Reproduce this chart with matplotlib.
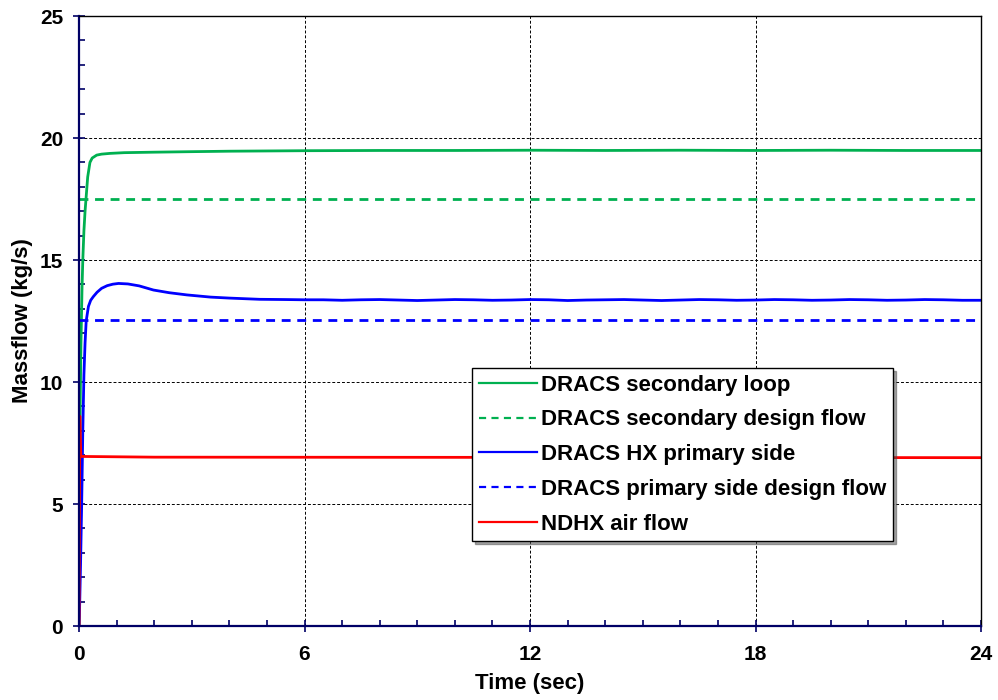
import matplotlib.pyplot as plt
from matplotlib.ticker import MultipleLocator

plt.rcParams['font.family'] = ['Liberation Sans', 'DejaVu Sans']
plt.rcParams['font.weight'] = 'bold'

### data ####
t_sec = [0.0, 0.01, 0.03, 0.05, 0.08, 0.1, 0.13, 0.16, 0.19, 0.23, 0.29, 0.35, 0.47, 0.6, 0.82, 1.2,
         2.0, 2.95, 4.0, 6.0, 8.0, 10.0, 12.0, 14.0, 16.0, 18.0, 20.0, 22.0, 24.0]
secondary_loop = [0.0, 3.0, 9.0, 11.5, 13.9, 15.0, 16.2, 17.0, 17.6, 18.4, 19.0, 19.18, 19.3, 19.34, 19.37, 19.4,
                  19.42, 19.44, 19.46, 19.48, 19.49, 19.49, 19.5, 19.49, 19.5, 19.49, 19.5, 19.49, 19.49]

t_hx = [0.0, 0.01, 0.04, 0.07, 0.1, 0.13, 0.16, 0.19, 0.25, 0.31, 0.38, 0.48, 0.6, 0.75, 0.9, 1.05, 1.3, 1.6,
        1.98, 2.4, 2.87, 3.5, 4.0, 4.8, 5.5, 6.0, 6.5, 7.0, 7.5, 8.0, 8.5, 9.0, 9.5, 10.0, 10.5, 11.0, 11.5,
        12.0, 12.5, 13.0, 13.5, 14.0, 14.5, 15.0, 15.5, 16.0, 16.5, 17.0, 17.5, 18.0, 18.5, 19.0, 19.5,
        20.0, 20.5, 21.0, 21.5, 22.0, 22.5, 23.0, 23.5, 24.0]
hx_primary = [0.0, 0.4, 2.5, 5.0, 8.0, 10.3, 11.6, 12.5, 13.1, 13.35, 13.5, 13.68, 13.84, 13.95, 14.01, 14.04,
              14.02, 13.94, 13.77, 13.66, 13.57, 13.48, 13.44, 13.39, 13.38, 13.37, 13.37, 13.35, 13.37, 13.38,
              13.36, 13.34, 13.36, 13.38, 13.37, 13.35, 13.36, 13.38, 13.37, 13.34, 13.36, 13.37, 13.38, 13.36,
              13.34, 13.36, 13.38, 13.37, 13.35, 13.36, 13.38, 13.37, 13.35, 13.36, 13.38, 13.37, 13.35, 13.36,
              13.38, 13.37, 13.35, 13.35]

t_air = [0.0, 0.02, 0.035, 0.05, 2.0, 24.0]
ndhx_air = [0.0, 8.6, 7.5, 6.95, 6.92, 6.9]

t_design = [0.0, 24.0]
secondary_design = [17.5, 17.5]
primary_design = [12.55, 12.55]

labels = ['DRACS secondary loop', 'DRACS secondary design flow', 'DRACS HX primary side',
          'DRACS primary side design flow', 'NDHX air flow']

navy = '#000066'

fig = plt.figure(figsize=(9.98, 7.0), dpi=100)
ax = fig.add_axes([0.0792, 0.1057, 0.9038, 0.8714])

ax.plot(t_sec, secondary_loop, color='#00b050', lw=2.0, label=labels[0])
ax.plot(t_design, secondary_design, color='#00b050', lw=2.0, ls=(0, (3.2, 2.4)), label=labels[1])
ax.plot(t_hx, hx_primary, color='#0000ff', lw=2.0, label=labels[2])
ax.plot(t_design, primary_design, color='#0000ff', lw=2.0, ls=(0, (3.2, 2.4)), label=labels[3])
ax.plot(t_air, ndhx_air, color='#ff0000', lw=2.0, label=labels[4])

ax.set_xlim(0, 24)
ax.set_ylim(0, 25)
ax.xaxis.set_major_locator(MultipleLocator(6))
ax.xaxis.set_minor_locator(MultipleLocator(1))
ax.yaxis.set_major_locator(MultipleLocator(5))
ax.yaxis.set_minor_locator(MultipleLocator(1))

ax.grid(which='major', color='black', ls=(0, (3, 2)), lw=0.7)
ax.tick_params(which='major', direction='inout', length=9, width=1.2, color=navy, labelsize=15, pad=7)
ax.tick_params(axis='x', which='major', pad=9)
ax.tick_params(which='minor', direction='in', length=4, width=1.2, color=navy)

ax.spines['left'].set_color(navy)
ax.spines['bottom'].set_color(navy)
ax.spines['left'].set_linewidth(1.6)
ax.spines['bottom'].set_linewidth(1.6)
ax.spines['top'].set_linewidth(1.0)
ax.spines['right'].set_linewidth(1.0)

ax.set_xlabel('Time (sec)', fontsize=16, fontweight='bold', labelpad=7)
ax.set_ylabel('Massflow (kg/s)', fontsize=16, fontweight='bold', labelpad=5)

leg = ax.legend(loc='upper left', bbox_to_anchor=(0.436, 0.423), fontsize=16, frameon=True, fancybox=False,
                shadow=True, edgecolor='black', framealpha=1, handlelength=2.6, handletextpad=0.2,
                labelspacing=0.62, borderpad=0.3, borderaxespad=0)
leg.get_frame().set_linewidth(1.0)
for line in leg.get_lines():
    line.set_linewidth(1.6)

fig.savefig('out.png', dpi=100)
